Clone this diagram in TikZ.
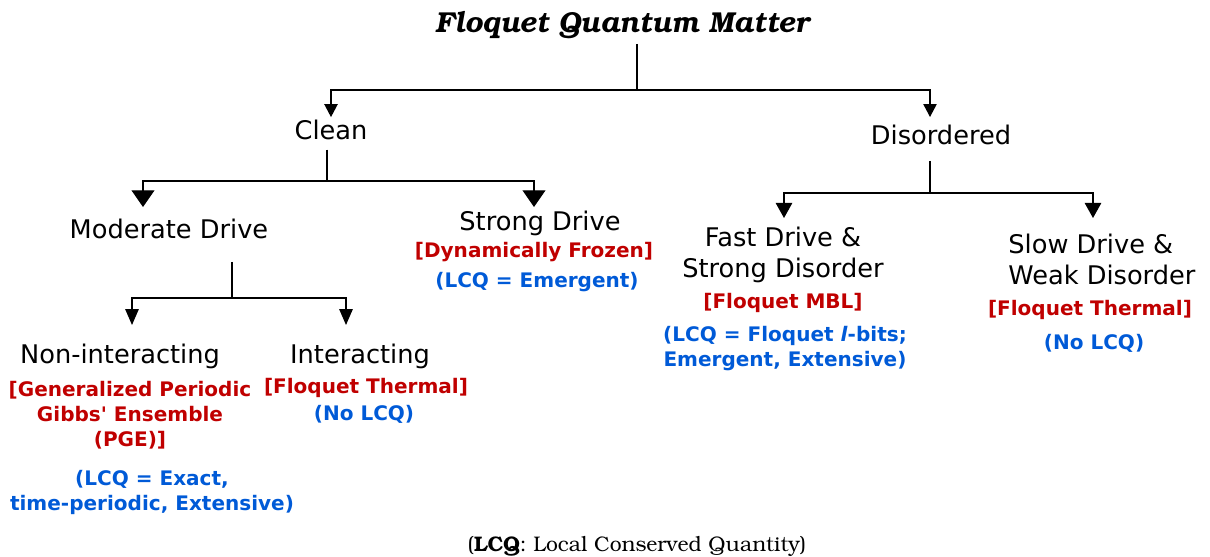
\documentclass[tikz,border=0pt]{standalone}
\usepackage[T1]{fontenc}
\usepackage{fontspec}
\setsansfont{DejaVu Sans}
\usetikzlibrary{arrows.meta}
\definecolor{phasered}{RGB}{192,0,0}
\definecolor{lcqblue}{RGB}{0,90,215}
\newcommand{\bkmfont}{\fontencoding{T1}\fontfamily{pbk}\selectfont}
\tikzset{
  title/.style={font=\bkmfont\bfseries\itshape\fontsize{16.4}{19}\selectfont, anchor=base, inner sep=1pt},
  note/.style={font=\bkmfont\fontsize{12}{14}\selectfont, anchor=base, inner sep=1pt},
  regime/.style={font=\sffamily\fontsize{14.6}{17.6}\selectfont, anchor=base, inner sep=1pt},
  phase/.style={font=\sffamily\bfseries\fontsize{11.4}{14}\selectfont, text=phasered, anchor=base, align=center, inner sep=1pt},
  lcq/.style={phase, text=lcqblue},
  tip/.style 2 args={-{Triangle[width=#1,length=#2]}},
}
\begin{document}
\begin{tikzpicture}[x=0.02cm, y=-0.02cm, line width=0.75pt]
  \useasboundingbox (0,0) rectangle (1210,556);

  % labels (multi-line ones sit on their last line)
  \node[title] (fqm) at (622,32) {Floquet Quantum Matter};
  \node[regime] (clean) at (331,139) {Clean};
  \node[regime] (disord) at (941,144) {Disordered};

  \node[regime] (moder) at (169,238) {Moderate Drive};
  \node[regime] (strong) at (540,230) {Strong Drive};
  \node[phase] (frozen) at (534,257) {[Dynamically Frozen]};
  \node[lcq] (emerg) at (537,287) {(LCQ = Emergent)};

  \node[regime] (nonint) at (120,363) {Non-interacting};
  \node[phase] (pge) at (130,446) {[Generalized Periodic\\Gibbs\textquotesingle{} Ensemble\\(PGE)]};
  \node[lcq] (exact) at (152,510) {(LCQ = Exact,\\time-periodic, Extensive)};
  \node[regime] (inter) at (360,363) {Interacting};
  \node[phase] (thermA) at (366,393) {[Floquet Thermal]};
  \node[lcq] (nolcqA) at (364,420) {(No LCQ)};

  \node[regime, align=center] (fast) at (783,277) {Fast Drive \&\\Strong Disorder};
  \node[phase] (mbl) at (783,308) {[Floquet MBL]};
  \node[lcq] (lbits) at (785,366) {(LCQ = Floquet \textit{l}-bits;\\Emergent, Extensive)};
  \node[regime, align=left, anchor=base west] (slow) at (1006,284) {Slow Drive \&\\Weak Disorder};
  \node[phase] (thermB) at (1090,315) {[Floquet Thermal]};
  \node[lcq] (nolcqB) at (1094,349) {(No LCQ)};

  \node[note] (legend) at (637,551) {(\textbf{LCQ}: Local Conserved Quantity)};

  % forks and arrow ends
  \coordinate (fqm-fork) at (637,90);
  \coordinate (clean-fork) at (327,181);
  \coordinate (moder-fork) at (232,298);
  \coordinate (disord-fork) at (930,193);
  \coordinate (to-disord) at (930,117);
  \coordinate (to-moder) at (143,207);
  \coordinate (to-strong) at (534,207);
  \coordinate (to-nonint) at (132,325);
  \coordinate (to-inter) at (346,325);
  \coordinate (to-fast) at (784,218);
  \coordinate (to-slow) at (1093,218);

  % tree
  \draw[shorten <=2pt] (fqm.south -| fqm-fork) -- (fqm-fork);
  \draw[tip={7.6pt}{7.4pt}] (fqm-fork) -| (clean.north);
  \draw[tip={7.6pt}{7.4pt}] (fqm-fork) -| (to-disord);

  \draw[shorten <=4.5pt] (clean.south -| clean-fork) -- (clean-fork);
  \draw[tip={13pt}{9.5pt}] (clean-fork) -| (to-moder);
  \draw[tip={13pt}{9.5pt}] (clean-fork) -| (to-strong);

  \draw[shorten <=12pt] (moder.south -| moder-fork) -- (moder-fork);
  \draw[tip={7.6pt}{9pt}] (moder-fork) -| (to-nonint);
  \draw[tip={7.6pt}{9pt}] (moder-fork) -| (to-inter);

  \draw[shorten <=8pt] (disord.south -| disord-fork) -- (disord-fork);
  \draw[tip={9.4pt}{8.6pt}] (disord-fork) -| (to-fast);
  \draw[tip={9.4pt}{8.6pt}] (disord-fork) -| (to-slow);
\end{tikzpicture}
\end{document}
